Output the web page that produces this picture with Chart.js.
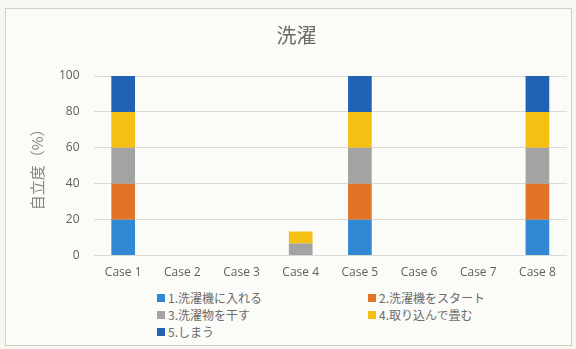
<!DOCTYPE html>
<html>
<head>
<meta charset="utf-8">
<script src="https://cdn.jsdelivr.net/npm/chart.js@4/dist/chart.umd.min.js"></script>
<style>
  html, body { margin: 0; padding: 0; background: #f7f6f1; }
  #frame {
    position: absolute; left: 5px; top: 8px; width: 565px; height: 336px;
    border: 1px solid #cfcfcb; background: #fbfbf8;
  }
  #wrap { position: absolute; left: 0; top: 0; width: 576px; height: 282px; }
  #legend {
    position: absolute; left: 157px; top: 291px; width: 420px;
    display: grid; grid-template-columns: 211px 200px; row-gap: 3px;
    font-family: "Noto Sans CJK JP", "Open Sans", sans-serif; font-size: 12px; color: #6a6a6a;
  }
  .item { display: flex; align-items: center; height: 14px; line-height: 14px; }
  .box { width: 8px; height: 8px; margin-right: 3px; flex: none; }
</style>
</head>
<body>
<div id="frame"></div>
<div id="wrap"><canvas id="c"></canvas></div>
<div id="legend"></div>
<script>
// categories and stacked step values (percent)
const categories = ["Case 1", "Case 2", "Case 3", "Case 4", "Case 5", "Case 6", "Case 7", "Case 8"];
const stepNames = ["1.洗濯機に入れる", "2.洗濯機をスタート", "3.洗濯物を干す", "4.取り込んで畳む", "5.しまう"];
const step1 = [20, 0, 0, 0,   20, 0, 0, 20];
const step2 = [20, 0, 0, 0,   20, 0, 0, 20];
const step3 = [20, 0, 0, 6.7, 20, 0, 0, 20];
const step4 = [20, 0, 0, 6.7, 20, 0, 0, 20];
const step5 = [20, 0, 0, 0,   20, 0, 0, 20];
const yTicks = [0, 20, 40, 60, 80, 100];

const colors = ["#3189d6", "#e2742a", "#a3a3a3", "#f6bf14", "#1f63b2"];
const series = [step1, step2, step3, step4, step5];

const datasets = series.map((d, i) => ({
  label: stepNames[i],
  data: d,
  backgroundColor: colors[i],
  borderWidth: 0,
  barPercentage: 0.4,
  categoryPercentage: 1.0
}));

const tickFont = { family: "'Open Sans', 'Liberation Sans', sans-serif", size: 12 };

const chart = new Chart(document.getElementById("c"), {
  type: "bar",
  data: { labels: categories, datasets },
  options: {
    responsive: true,
    maintainAspectRatio: false,
    animation: false,
    layout: { padding: { left: 26, right: 9, top: 13, bottom: 0 } },
    plugins: {
      legend: { display: false },
      tooltip: { enabled: false },
      title: {
        display: true,
        text: "洗濯",
        color: "#6b6b6b",
        font: { family: "'Noto Sans CJK JP', sans-serif", size: 20, weight: "normal" },
        padding: { top: 10, bottom: 29 }
      }
    },
    scales: {
      x: {
        stacked: true,
        grid: { display: false },
        border: { display: false },
        ticks: { color: "#5f5f5f", font: tickFont, padding: 2 }
      },
      y: {
        stacked: true,
        min: 0,
        max: 100,
        afterBuildTicks: (axis) => { axis.ticks = yTicks.map(v => ({ value: v })); },
        grid: { color: "#d9d9d6", lineWidth: 1, drawTicks: false },
        border: { display: false },
        ticks: { color: "#5f5f5f", font: tickFont, padding: 14 },
        title: {
          display: true,
          text: "自立度（%）",
          color: "#858585",
          font: { family: "'Noto Sans CJK JP', sans-serif", size: 15, lineHeight: 1 },
          padding: { top: 4, bottom: 0 }
        }
      }
    }
  }
});

// two-column legend built from the chart's datasets
const legend = document.getElementById("legend");
chart.data.datasets.forEach(ds => {
  const item = document.createElement("div");
  item.className = "item";
  const box = document.createElement("span");
  box.className = "box";
  box.style.background = ds.backgroundColor;
  const txt = document.createElement("span");
  txt.textContent = ds.label;
  item.appendChild(box);
  item.appendChild(txt);
  legend.appendChild(item);
});
</script>
</body>
</html>
